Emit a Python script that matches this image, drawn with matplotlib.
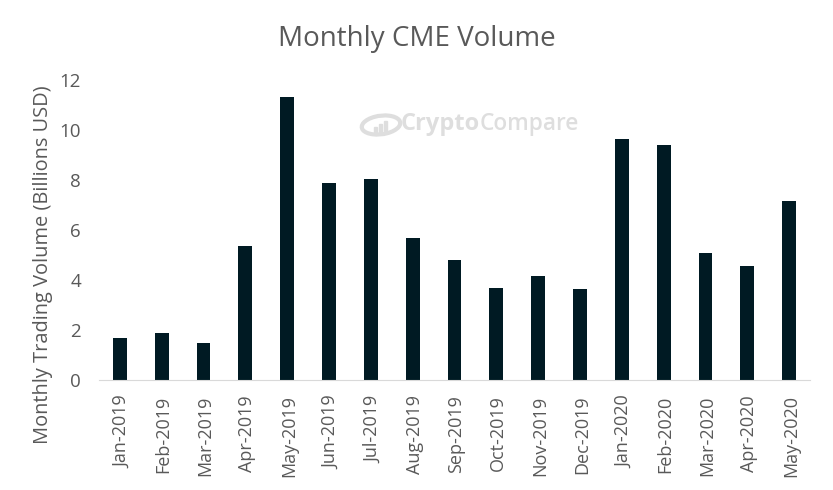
import matplotlib
matplotlib.use("Agg")
import matplotlib.pyplot as plt
from matplotlib.patches import Ellipse, Rectangle
from matplotlib.transforms import ScaledTranslation

months = ["Jan-2019","Feb-2019","Mar-2019","Apr-2019","May-2019","Jun-2019","Jul-2019","Aug-2019","Sep-2019","Oct-2019","Nov-2019","Dec-2019","Jan-2020","Feb-2020","Mar-2020","Apr-2020","May-2020"]
volumes = [1.68,1.87,1.47,5.35,11.33,7.87,8.03,5.67,4.82,3.70,4.18,3.66,9.63,9.42,5.10,4.55,7.18]
yticks = [0,2,4,6,8,10,12]
GREY = "#595959"
WM = "#dedede"

plt.rcParams['font.family'] = ['Open Sans', 'DejaVu Sans']
fig = plt.figure(figsize=(8.33,4.90), dpi=100)
ax = fig.add_axes([99/833, 1-380/490, 711/833, 300/490])
ax.bar(range(len(months)), volumes, width=0.33, color="#001a23")
ax.set_xlim(-0.5, len(months)-0.5)
ax.set_ylim(0,12)
ax.set_yticks(yticks)
ax.set_xticks(range(len(months)))
ax.set_xticklabels(months, rotation=90, fontsize=13, color=GREY)
ax.tick_params(axis='y', length=0, labelsize=13.5, labelcolor=GREY, pad=13)
ax.tick_params(axis='x', length=0, pad=11)
offset = ScaledTranslation(2/100, 0, fig.dpi_scale_trans)
for lab in ax.get_xticklabels():
    lab.set_transform(lab.get_transform() + offset)
for s in ['top','right','left']:
    ax.spines[s].set_visible(False)
ax.spines['bottom'].set_color("#d9d9d9")
ax.set_ylabel("Monthly Trading Volume (Billions USD)", fontsize=14.4, color=GREY)
ax.yaxis.set_label_coords(-0.065, 0.383)
fig.text(417/833, 1-39/490, "Monthly CME Volume", fontsize=20, color=GREY, ha='center', va='center')

# watermark: logo and wordmark
fig.add_artist(Ellipse((381/833, 1-125/490), 40/833, 18/490, angle=25, fill=False, edgecolor=WM, linewidth=3, transform=fig.transFigure))
for lx, h in [(374,5),(379,8),(384,11)]:
    fig.add_artist(Rectangle((lx/833, 1-132/490), 3/833, h/490, color=WM, transform=fig.transFigure))
fig.text(401/833, 1-124/490, "Crypto", fontsize=17, fontweight='bold', color=WM, ha='left', va='center')
fig.text(480/833, 1-124/490, "Compare", fontsize=16.3, fontweight='semibold', color=WM, ha='left', va='center')
fig.savefig("out.png", dpi=100)
